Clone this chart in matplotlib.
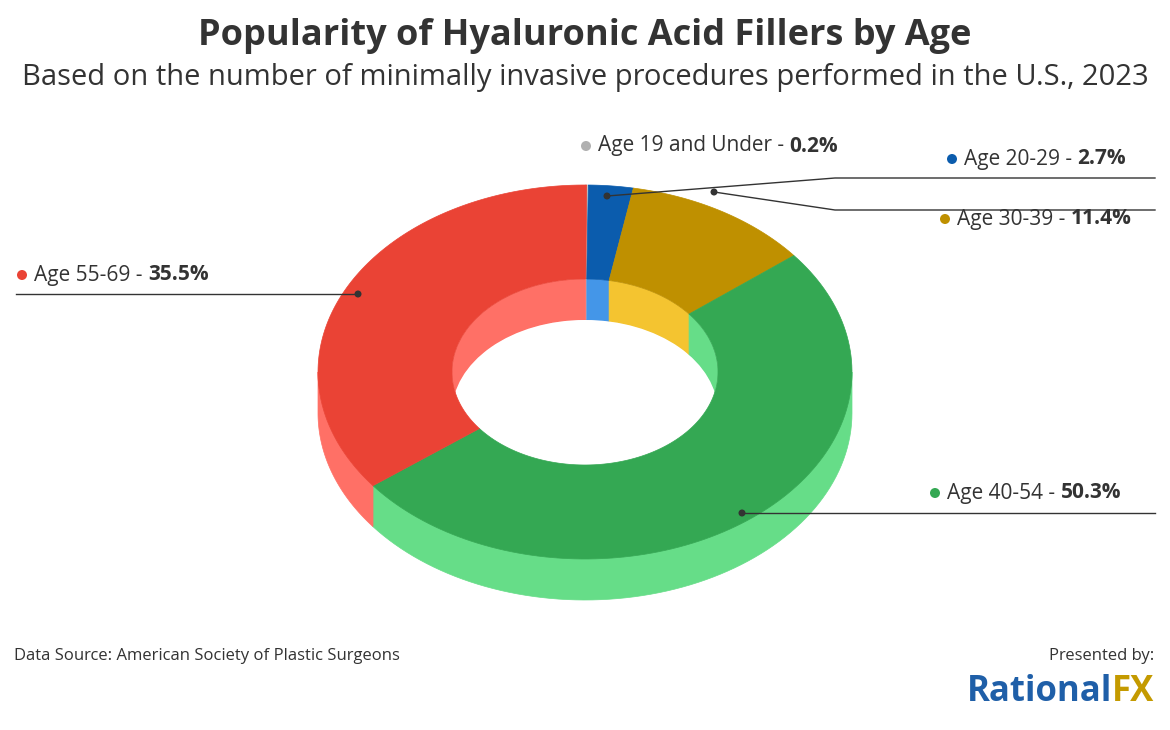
import matplotlib
matplotlib.use("AGG")
import numpy as np
import matplotlib.pyplot as plt
from matplotlib.patches import Polygon, Ellipse, Circle

labels = ["Age 19 and Under", "Age 20-29", "Age 30-39", "Age 40-54", "Age 55-69"]
values = [0.2, 2.7, 11.4, 50.3, 35.5]
top_colors = ["#c8c8c8", "#0b5cad", "#bf9000", "#34a853", "#ea4335"]
wall_colors = ["#e0e0e0", "#4496e8", "#f4c430", "#66dd88", "#ff7066"]
dot_colors = ["#b0b0b0", "#0b5cad", "#bf9000", "#34a853", "#ea4335"]

plt.rcParams["font.family"] = "Open Sans"
fig = plt.figure(figsize=(11.7, 7.3), dpi=100)
ax = fig.add_axes([0, 0, 1, 1])
ax.set_xlim(0, 1170)
ax.set_ylim(730, 0)
ax.axis("off")

cx, cy = 585, 372
rx, ry = 267, 187
irx, iry = 133, 93
depth = 41

def pt(a, sx, sy, dy=0):
    a = np.radians(a)
    return np.column_stack([cx + sx * np.cos(a), cy - sy * np.sin(a) + dy])

# segment angles, clockwise from top
ends = 90 - 360 * np.cumsum(values) / 100
starts = np.r_[90, ends[:-1]]

# outer wall (front half)
for s, e, c in zip(starts, ends, wall_colors):
    for off in (0, -360):
        l2, h2 = max(e, -180 + off), min(s, 0 + off)
        if h2 > l2:
            a = np.linspace(h2, l2, 80)
            poly = np.vstack([pt(a, rx, ry), pt(a[::-1], rx, ry, depth)])
            ax.add_patch(Polygon(poly, closed=True, fc=c, ec=c, lw=0.5))

# inner wall (back half) seen through the hole
hole = Ellipse((cx, cy), 2 * irx, 2 * iry, fc="none", ec="none")
ax.add_patch(hole)
for s, e, c in zip(starts, ends, wall_colors):
    for off in (0, -360):
        l2, h2 = max(e, 0 + off), min(s, 180 + off)
        if h2 > l2:
            a = np.linspace(h2, l2, 80)
            poly = np.vstack([pt(a, irx, iry), pt(a[::-1], irx, iry, depth)])
            p = Polygon(poly, closed=True, fc=c, ec=c, lw=0.5)
            ax.add_patch(p)
            p.set_clip_path(hole)
wh = Ellipse((cx, cy + depth), 2 * irx, 2 * iry, fc="white", ec="none")
ax.add_patch(wh)
wh.set_clip_path(hole)

# top face
for s, e, c in zip(starts, ends, top_colors):
    a = np.linspace(s, e, 120)
    poly = np.vstack([pt(a, rx, ry), pt(a[::-1], irx, iry)])
    ax.add_patch(Polygon(poly, closed=True, fc=c, ec=c, lw=0.5))

# labels
lab_pos = [(586, 146), (952, 159), (945, 219), (935, 493), (22, 275)]
lines = [None,
         [(607, 196), (835, 178), (1155, 178)],
         [(714, 192), (835, 210), (1155, 210)],
         [(742, 513), (1155, 513)],
         [(358, 294), (16, 294)]]
for lab, v, (x, y), ln, dc in zip(labels, values, lab_pos, lines, dot_colors):
    ax.add_patch(Circle((x, y), 5, fc=dc, ec="none"))
    t = ax.text(x + 12, y, lab + " - ", fontsize=15, color="#333333", va="center", ha="left")
    ax.annotate(f"{v}%", xy=(1, 0.5), xycoords=t, fontsize=15, fontweight="bold",
                color="#333333", va="center", ha="left")
    if ln:
        xs, ys = zip(*ln)
        ax.plot(xs, ys, color="#333333", lw=1)
        ax.add_patch(Circle(ln[0], 3.5, fc="#333333", ec="none"))

ax.text(585, 36, "Popularity of Hyaluronic Acid Fillers by Age", fontsize=26,
        fontweight="bold", color="#333333", ha="center", va="center")
ax.text(585, 78, "Based on the number of minimally invasive procedures performed in the U.S., 2023",
        fontsize=21, color="#333333", ha="center", va="center")
ax.text(14, 656, "Data Source: American Society of Plastic Surgeons", fontsize=12,
        color="#333333", ha="left", va="center")
ax.text(1154, 656, "Presented by:", fontsize=12, color="#333333", ha="right", va="center")
fx = ax.text(1154, 692, "FX", fontsize=25, fontweight="bold", color="#c49a00", ha="right", va="center")
ax.annotate("Rational", xy=(0, 0.5), xycoords=fx, fontsize=25, fontweight="bold",
            color="#1f5fa8", ha="right", va="center")

fig.savefig("out.png", dpi=100)
